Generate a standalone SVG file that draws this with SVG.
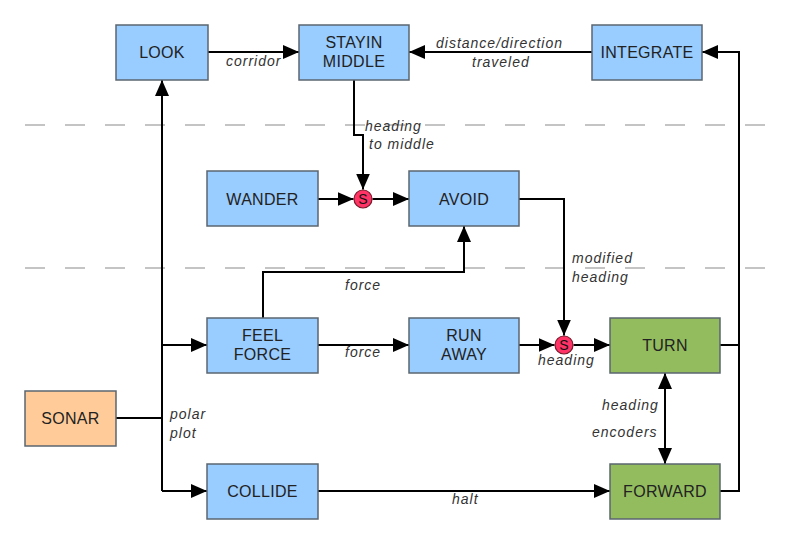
<svg xmlns="http://www.w3.org/2000/svg" width="800" height="550" viewBox="0 0 800 550">
<style>
.node rect{stroke:#5b6570;stroke-width:1.5}
.blue rect{fill:#99ccff}
.green rect{fill:#93bc5f}
.orange rect{fill:#ffcc99}
.nt{font-family:"Liberation Sans",Arial,sans-serif;font-size:16px;fill:#222;text-anchor:middle;letter-spacing:0.3px}
.lb{font-family:"Liberation Sans",Arial,sans-serif;font-size:14px;font-style:italic;fill:#333;letter-spacing:1px}
.c{fill:none;stroke:#000;stroke-width:2}
.dash{stroke:#c4c4c4;stroke-width:2;stroke-dasharray:20 20}
.sum circle{fill:#ff3366;stroke:#7a1a2a;stroke-width:1.2}
.st{font-family:"Liberation Sans",Arial,sans-serif;font-size:14px;fill:#111;text-anchor:middle}
</style>
<defs>
<marker id="a" markerUnits="userSpaceOnUse" markerWidth="16" markerHeight="14" refX="16" refY="7" orient="auto">
<path d="M0,0 L16,7 L0,14 z" fill="#000"/>
</marker>
<marker id="as" markerUnits="userSpaceOnUse" markerWidth="16" markerHeight="14" refX="16" refY="7" orient="auto-start-reverse">
<path d="M0,0 L16,7 L0,14 z" fill="#000"/>
</marker>
</defs>
<rect width="800" height="550" fill="#fff"/>
<g id="separators">
<line class="dash" x1="25" y1="125" x2="770" y2="125"/>
<line class="dash" x1="25" y1="268" x2="770" y2="268"/>
</g>
<g id="connectors">
<path class="c" d="M208,52 H299" marker-end="url(#a)"/>
<path class="c" d="M592,52 H409" marker-end="url(#a)"/>
<path class="c" d="M354,80 V135 H363 V189.5" marker-end="url(#a)"/>
<path class="c" d="M318,199 H353.5" marker-end="url(#a)"/>
<path class="c" d="M372.5,199 H409" marker-end="url(#a)"/>
<path class="c" d="M519,199 H564 V335.5" marker-end="url(#a)"/>
<path class="c" d="M263,318 V272 H464 V226" marker-end="url(#a)"/>
<path class="c" d="M318,345 H409" marker-end="url(#a)"/>
<path class="c" d="M519,345 H554.5" marker-end="url(#a)"/>
<path class="c" d="M573.5,345 H610" marker-end="url(#a)"/>
<path class="c" d="M665,373 V464" marker-start="url(#as)" marker-end="url(#a)"/>
<path class="c" d="M318,491 H610" marker-end="url(#a)"/>
<path class="c" d="M116,418 H162"/>
<path class="c" d="M162,491 V80" marker-end="url(#a)"/>
<path class="c" d="M162,345 H207" marker-end="url(#a)"/>
<path class="c" d="M162,491 H207" marker-end="url(#a)"/>
<path class="c" d="M720,345 H739"/>
<path class="c" d="M720,491 H739 V52 H702" marker-end="url(#a)"/>
<text class="lb" x="226" y="66">corridor</text>
<text class="lb" x="436" y="48">distance/direction</text>
<text class="lb" x="472" y="67">traveled</text>
<text class="lb" x="365" y="131">heading</text>
<text class="lb" x="369" y="149">to middle</text>
<text class="lb" x="572" y="263">modified</text>
<text class="lb" x="572" y="282">heading</text>
<text class="lb" x="345" y="290">force</text>
<text class="lb" x="345" y="357">force</text>
<text class="lb" x="538" y="365">heading</text>
<text class="lb" x="170" y="419">polar</text>
<text class="lb" x="170" y="438">plot</text>
<text class="lb" x="602" y="410">heading</text>
<text class="lb" x="592" y="437">encoders</text>
<text class="lb" x="452" y="504">halt</text>
</g>
<g id="look" class="node blue"><rect x="116" y="25" width="92" height="55"/><text class="nt" x="162" y="58">LOOK</text></g>
<g id="stayin-middle" class="node blue"><rect x="299" y="25" width="110" height="55"/><text class="nt" x="354" y="48">STAYIN</text><text class="nt" x="354" y="67">MIDDLE</text></g>
<g id="integrate" class="node blue"><rect x="592" y="25" width="110" height="55"/><text class="nt" x="647" y="58">INTEGRATE</text></g>
<g id="wander" class="node blue"><rect x="207" y="171" width="111" height="55"/><text class="nt" x="262.5" y="204.5">WANDER</text></g>
<g id="avoid" class="node blue"><rect x="409" y="171" width="110" height="55"/><text class="nt" x="464" y="204.5">AVOID</text></g>
<g id="feel-force" class="node blue"><rect x="207" y="318" width="111" height="55"/><text class="nt" x="262.5" y="341">FEEL</text><text class="nt" x="262.5" y="360">FORCE</text></g>
<g id="run-away" class="node blue"><rect x="409" y="318" width="110" height="55"/><text class="nt" x="464" y="341">RUN</text><text class="nt" x="464" y="360">AWAY</text></g>
<g id="turn" class="node green"><rect x="610" y="318" width="110" height="55"/><text class="nt" x="665" y="351">TURN</text></g>
<g id="sonar" class="node orange"><rect x="25" y="391" width="91" height="55"/><text class="nt" x="70.5" y="424">SONAR</text></g>
<g id="collide" class="node blue"><rect x="207" y="464" width="111" height="55"/><text class="nt" x="262.5" y="497">COLLIDE</text></g>
<g id="forward" class="node green"><rect x="610" y="464" width="110" height="55"/><text class="nt" x="665" y="497">FORWARD</text></g>
<g id="s1" class="sum"><circle cx="363" cy="199" r="9"/><text class="st" x="363" y="204">S</text></g>
<g id="s2" class="sum"><circle cx="564" cy="345" r="9"/><text class="st" x="564" y="350">S</text></g>
</svg>
